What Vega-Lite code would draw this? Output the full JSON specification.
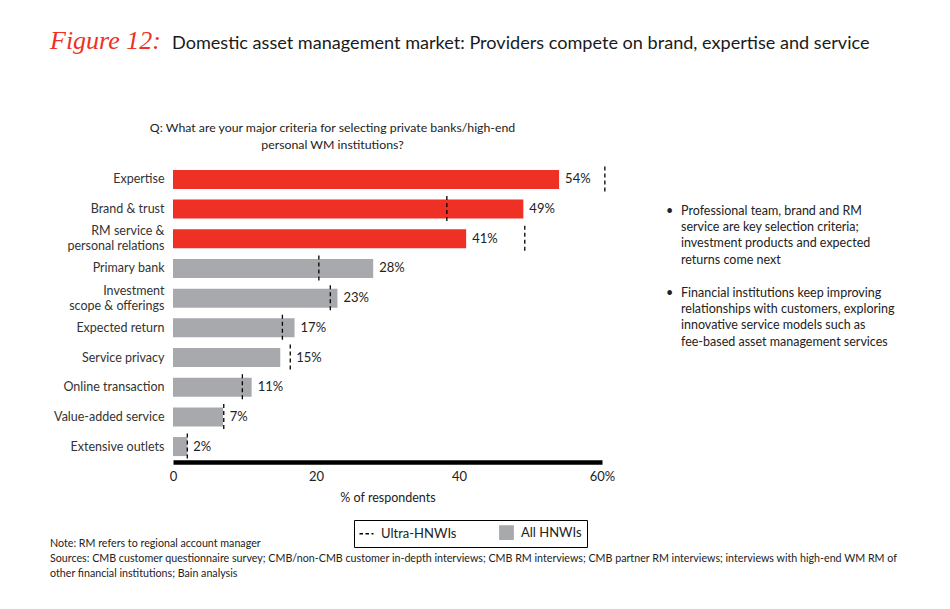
{
  "$schema": "https://vega.github.io/schema/vega-lite/v6.json",
  "width": 429,
  "height": 298,
  "autosize": {"type": "none"},
  "padding": {"left": 173, "top": 164, "right": 348, "bottom": 147},
  "background": "white",
  "config": {"view": {"stroke": null}, "font": "Lato", "text": {"font": "Lato"}},
  "layer": [
    {
      "data": {
        "values": [
          {"criterion": "Expertise", "allHNWIs": 54, "ultraHNWIs": 60.4},
          {"criterion": "Brand & trust", "allHNWIs": 49, "ultraHNWIs": 38.3},
          {"criterion": "RM service &|personal relations", "allHNWIs": 41, "ultraHNWIs": 49.2},
          {"criterion": "Primary bank", "allHNWIs": 28, "ultraHNWIs": 20.4},
          {"criterion": "Investment|scope & offerings", "allHNWIs": 23, "ultraHNWIs": 22.0},
          {"criterion": "Expected return", "allHNWIs": 17, "ultraHNWIs": 15.3},
          {"criterion": "Service privacy", "allHNWIs": 15, "ultraHNWIs": 16.4},
          {"criterion": "Online transaction", "allHNWIs": 11, "ultraHNWIs": 9.7},
          {"criterion": "Value-added service", "allHNWIs": 7, "ultraHNWIs": 7.1},
          {"criterion": "Extensive outlets", "allHNWIs": 2, "ultraHNWIs": 2.0}
        ]
      },
      "transform": [
        {"calculate": "datum.allHNWIs >= 40 ? 'Key' : 'All HNWIs'", "as": "grp"},
        {"calculate": "datum.allHNWIs + '%'", "as": "lbl"},
        {"calculate": "(datum.ultraHNWIs > datum.allHNWIs && datum.ultraHNWIs - datum.allHNWIs < 2) ? datum.ultraHNWIs : datum.allHNWIs", "as": "labelPos"}
      ],
      "encoding": {
        "y": {
          "field": "criterion",
          "type": "nominal",
          "sort": null,
          "scale": {"paddingInner": 0.36, "paddingOuter": 0.2},
          "axis": {
            "title": null,
            "domain": false,
            "ticks": false,
            "labelPadding": 9,
            "labelFontSize": 12.5,
            "labelColor": "#333333",
            "labelLimit": 300,
            "labelLineHeight": 15,
            "labelExpr": "split(datum.label, '|')",
            "labelOffset": {"condition": {"test": "indexof(datum.value, '|') >= 0", "value": -7.5}, "value": 0}
          }
        }
      },
      "layer": [
        {
          "mark": {"type": "bar"},
          "encoding": {
            "x": {
              "field": "allHNWIs",
              "type": "quantitative",
              "scale": {"domain": [0, 60], "nice": false},
              "axis": {
                "values": [0, 20, 40, 60],
                "labelExpr": "datum.value == 60 ? '60%' : datum.label",
                "labelFlush": false,
                "title": "% of respondents",
                "titleFontWeight": "normal",
                "titleFontSize": 12.5,
                "titleColor": "#222222",
                "titlePadding": 8,
                "labelFontSize": 13,
                "labelColor": "#222222",
                "labelPadding": 8,
                "ticks": false,
                "grid": false,
                "domainColor": "#000000",
                "domainWidth": 4.5
              }
            },
            "color": {
              "field": "grp",
              "type": "nominal",
              "scale": {"domain": ["Ultra-HNWIs", "All HNWIs", "Key"], "range": ["#000000", "#a7a9ac", "#ee3124"]},
              "legend": {
                "values": ["Ultra-HNWIs", "All HNWIs"],
                "title": null,
                "orient": "none",
                "direction": "horizontal",
                "legendX": 181,
                "legendY": 356,
                "strokeColor": "#000000",
                "padding": 5,
                "columnPadding": 40,
                "labelFontSize": 13,
                "labelColor": "#222222",
                "labelOffset": 7,
                "encode": {
                  "symbols": {
                    "update": {
                      "shape": {"signal": "datum.value === 'Ultra-HNWIs' ? 'stroke' : 'square'"},
                      "fill": {"signal": "datum.value === 'Ultra-HNWIs' ? 'transparent' : '#a7a9ac'"},
                      "stroke": {"signal": "datum.value === 'Ultra-HNWIs' ? '#000000' : 'transparent'"},
                      "strokeDash": {"signal": "datum.value === 'Ultra-HNWIs' ? [3.5, 2.5] : [1, 0]"},
                      "strokeWidth": {"value": 1.3},
                      "size": {"signal": "datum.value === 'Ultra-HNWIs' ? 196 : 180"},
                      "opacity": {"value": 1}
                    }
                  }
                }
              }
            }
          }
        },
        {
          "mark": {"type": "rule", "strokeDash": [4, 3], "strokeWidth": 1.3, "yOffset": -3.5, "y2Offset": 3.5},
          "encoding": {
            "x": {"field": "ultraHNWIs", "type": "quantitative", "scale": {"domain": [0, 60], "nice": false}, "title": "% of respondents"},
            "y": {"field": "criterion", "type": "nominal", "sort": null, "bandPosition": 0},
            "y2": {"field": "criterion", "bandPosition": 1},
            "color": {"datum": "Ultra-HNWIs", "type": "nominal"}
          }
        },
        {
          "mark": {"type": "text", "align": "left", "baseline": "middle", "dx": 6, "fontSize": 13, "color": "#222222"},
          "encoding": {
            "x": {"field": "labelPos", "type": "quantitative", "scale": {"domain": [0, 60], "nice": false}, "title": "% of respondents"},
            "text": {"field": "lbl", "type": "nominal"}
          }
        }
      ]
    },
    {
      "data": {"values": [{}]},
      "mark": {"type": "text", "text": "Figure 12:", "font": "Liberation Serif", "fontStyle": "italic", "fontSize": 26, "color": "#ee3124", "align": "left", "baseline": "alphabetic"},
      "encoding": {"x": {"value": -123}, "y": {"value": -115}}
    },
    {
      "data": {"values": [{}]},
      "mark": {"type": "text", "text": "Domestic asset management market: Providers compete on brand, expertise and service", "fontSize": 18.1, "color": "#1a1a1a", "align": "left", "baseline": "alphabetic"},
      "encoding": {"x": {"value": -1}, "y": {"value": -115}}
    },
    {
      "data": {"values": [{}]},
      "mark": {"type": "text", "text": ["Q: What are your major criteria for selecting private banks/high-end", "personal WM institutions?"], "fontSize": 12.3, "lineHeight": 16.5, "color": "#222222", "align": "center", "baseline": "alphabetic"},
      "encoding": {"x": {"value": 159.5}, "y": {"value": -32}}
    },
    {
      "data": {"values": [{}]},
      "mark": {"type": "text", "text": "•", "fontSize": 12.5, "color": "#222222", "align": "left", "baseline": "alphabetic"},
      "encoding": {"x": {"value": 493}, "y": {"value": 51}}
    },
    {
      "data": {"values": [{}]},
      "mark": {"type": "text", "text": "•", "fontSize": 12.5, "color": "#222222", "align": "left", "baseline": "alphabetic"},
      "encoding": {"x": {"value": 493}, "y": {"value": 133}}
    },
    {
      "data": {"values": [{}]},
      "mark": {"type": "text", "text": ["Professional team, brand and RM", "service are key selection criteria;", "investment products and expected", "returns come next"], "fontSize": 12.5, "lineHeight": 16.2, "color": "#222222", "align": "left", "baseline": "alphabetic"},
      "encoding": {"x": {"value": 508}, "y": {"value": 51}}
    },
    {
      "data": {"values": [{}]},
      "mark": {"type": "text", "text": ["Financial institutions keep improving", "relationships with customers, exploring", "innovative service models such as", "fee-based asset management services"], "fontSize": 12.5, "lineHeight": 16.2, "color": "#222222", "align": "left", "baseline": "alphabetic"},
      "encoding": {"x": {"value": 508}, "y": {"value": 133}}
    },
    {
      "data": {"values": [{}]},
      "mark": {"type": "text", "text": ["Note: RM refers to regional account manager", "Sources: CMB customer questionnaire survey; CMB/non-CMB customer in-depth interviews; CMB RM interviews; CMB partner RM interviews; interviews with high-end WM RM of", "other financial institutions; Bain analysis"], "fontSize": 10.7, "lineHeight": 15, "color": "#222222", "align": "left", "baseline": "alphabetic"},
      "encoding": {"x": {"value": -123}, "y": {"value": 383}}
    }
  ]
}
